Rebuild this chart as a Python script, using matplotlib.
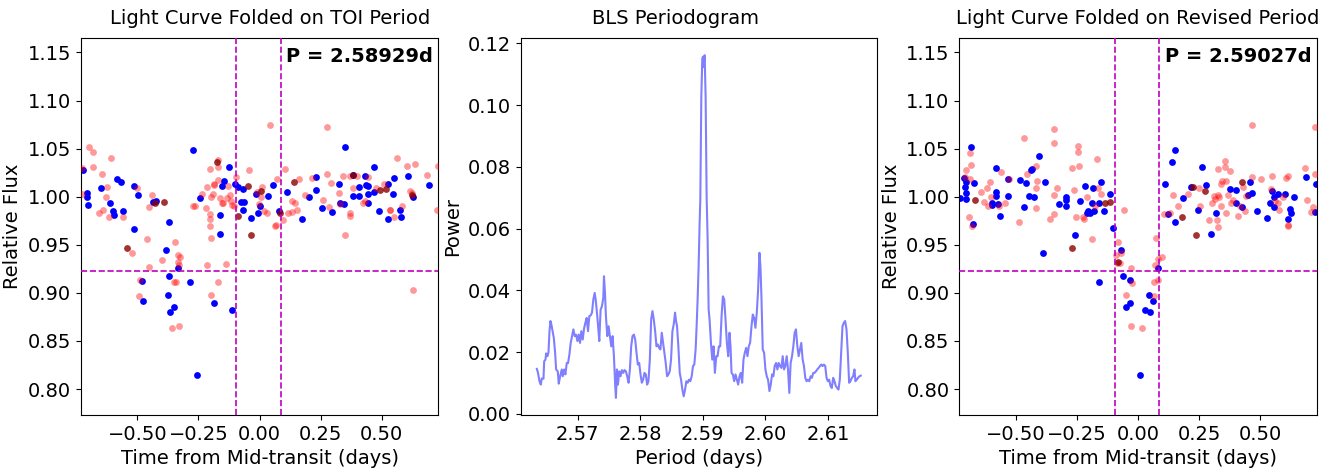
import matplotlib
matplotlib.use("Agg")
import matplotlib.pyplot as plt
import numpy as np

# ---------------- Data ----------------
toi_period_label = "P = 2.58929d"
rev_period_label = "P = 2.59027d"
transit_start = -0.096
transit_end = 0.0865
depth_level = 0.9229

# Panel 1: folded on TOI period
toi_blue_phase = [-0.274, -0.721, -0.704, -0.704, -0.703, -0.647, -0.584, -0.566, -0.610, -0.601,
                  -0.594, -0.557, -0.515, -0.499, -0.435, -0.422, -0.369, -0.512, -0.244, -0.124,
                  -0.144, -0.155, -0.163, -0.102, -0.090, -0.067, -0.076, -0.064, -0.067, -0.033,
                  -0.014, -0.005, 0.001, 0.033, 0.057, 0.078, 0.114, 0.173, 0.203, 0.230,
                  0.232, 0.255, 0.298, 0.324, 0.331, 0.347, 0.350, 0.384, 0.382, 0.405,
                  0.406, 0.433, 0.437, 0.445, 0.445, 0.445, 0.469, 0.470, 0.489, 0.525,
                  0.526, 0.548, 0.547, 0.575, 0.577, 0.608, 0.628, 0.693,
                  -0.383, -0.481, -0.478, -0.371, -0.335, -0.375, -0.349, -0.365, -0.286, -0.256,
                  -0.187, -0.113, -0.161]
toi_blue_flux = [1.049, 1.028, 1.004, 1.000, 0.991, 1.009, 1.018, 1.015, 0.994, 0.985,
                 0.981, 0.985, 1.011, 1.002, 0.995, 0.996, 0.974, 0.966, 0.999, 1.031,
                 1.016, 1.011, 0.981, 1.013, 1.010, 1.008, 0.995, 0.995, 0.986, 0.978,
                 1.003, 0.983, 0.990, 1.001, 1.012, 0.985, 1.005, 0.977, 1.000, 1.021,
                 1.007, 0.988, 0.984, 1.013, 0.994, 0.992, 1.052, 1.023, 1.001, 1.001,
                 1.010, 1.022, 1.012, 1.011, 1.003, 0.994, 1.031, 1.005, 0.985, 1.013,
                 0.977, 1.019, 1.003, 0.986, 0.979, 1.022, 1.000, 1.012,
                 0.945, 0.912, 0.892, 0.918, 0.926, 0.898, 0.885, 0.880, 0.911, 0.815,
                 0.890, 0.882, 0.961]
toi_red_phase = [-0.725, -0.725, -0.698, -0.683, -0.683, -0.643, -0.606, -0.655, -0.642, -0.628,
                 -0.625, -0.617, -0.560, -0.501, -0.452, -0.441, -0.272, -0.264, -0.234, -0.219,
                 -0.203, -0.202, -0.215, -0.202, -0.187, -0.191, -0.186, -0.169, -0.169, -0.169,
                 -0.198, -0.163, -0.155, -0.148, -0.134, -0.127, -0.121, -0.117, -0.112, -0.105,
                 -0.098, -0.042, -0.012, -0.001, 0.008, 0.011, 0.019, 0.029, 0.042, 0.065,
                 0.072, 0.094, 0.105, 0.117, 0.132, 0.132, 0.146, 0.155, 0.162, 0.187,
                 0.215, 0.260, 0.275, 0.275, 0.283, 0.293, 0.324, 0.330, 0.340, 0.370,
                 0.372, 0.371, 0.397, 0.383, 0.424, 0.432, 0.444, 0.477, 0.511, 0.532,
                 0.535, 0.552, 0.561, 0.581, 0.604, 0.616, 0.623, 0.637, 0.685, 0.725, 0.729,
                 -0.459, -0.345, -0.398, -0.452, -0.523, -0.489, -0.493, -0.334, -0.326, -0.333,
                 -0.331, -0.350, -0.343, -0.357, -0.328, -0.199, -0.202, -0.214, -0.198, -0.168,
                 -0.138, 0.069, 0.351, 0.628]
toi_red_flux = [1.030, 1.003, 1.052, 1.047, 1.031, 1.024, 1.040, 0.983, 0.986, 1.000,
                1.010, 0.979, 0.979, 1.009, 0.989, 1.002, 0.990, 0.990, 1.003, 0.988,
                0.982, 0.977, 1.010, 1.029, 1.013, 1.003, 1.012, 1.031, 1.017, 1.038,
                1.000, 0.999, 0.994, 0.993, 0.999, 1.011, 1.002, 0.996, 0.991, 0.990,
                1.020, 1.028, 1.005, 0.992, 1.000, 1.010, 0.985, 0.983, 1.075, 0.970,
                1.018, 0.976, 1.029, 0.983, 0.984, 0.996, 0.994, 0.986, 1.018, 1.002,
                1.019, 0.997, 1.072, 1.024, 0.989, 1.014, 1.004, 0.992, 1.022, 1.022,
                0.983, 0.980, 1.022, 1.009, 0.994, 0.996, 1.020, 1.009, 1.013, 0.986,
                0.986, 0.979, 1.040, 0.990, 1.032, 1.006, 1.004, 1.034, 1.023, 0.986, 1.032,
                0.956, 0.953, 0.934, 0.927, 0.942, 0.913, 0.897, 0.939, 0.937, 0.932,
                0.929, 0.911, 0.911, 0.864, 0.866, 0.957, 0.970, 0.929, 0.898, 0.911,
                0.930, 0.971, 0.960, 0.903]
toi_dark_phase = [-0.172, -0.426, -0.392, -0.048, 0.007, 0.082, 0.142, 0.384, 0.493, 0.519,
                  0.624, -0.090, -0.542, -0.034]
toi_dark_flux = [1.036, 0.993, 0.995, 1.011, 1.006, 0.983, 1.015, 1.023, 1.007, 1.008,
                 1.002, 0.980, 0.947, 0.960]

# Panel 3: folded on revised period
rev_blue_phase = [-0.728, -0.710, -0.704, -0.706, -0.704, -0.704, -0.684, -0.670, -0.676, -0.582,
                  -0.582, -0.598, -0.595, -0.572, -0.580, -0.563, -0.533, -0.533, -0.484, -0.458,
                  -0.467, -0.446, -0.425, -0.436, -0.432, -0.405, -0.379, -0.323, -0.296, -0.296,
                  -0.293, -0.238, -0.218, -0.183, -0.187, -0.203, -0.207, -0.198, -0.181, -0.158,
                  -0.151, -0.139, -0.114, -0.104, 0.110, 0.123, 0.150, 0.149, 0.140, 0.184,
                  0.217, 0.247, 0.263, 0.277, 0.320, 0.377, 0.402, 0.400, 0.426, 0.459,
                  0.464, 0.450, 0.486, 0.528, 0.541, 0.546, 0.556, 0.557, 0.572, 0.601,
                  0.621, 0.624, 0.614, 0.638, 0.688, 0.725, 0.729,
                  -0.390, -0.259, -0.159, -0.068, -0.061, -0.034, -0.048, -0.034, 0.046, 0.063,
                  0.030, 0.050, 0.008, 0.082, 0.298]
rev_blue_flux = [0.999, 1.019, 1.015, 1.010, 1.004, 0.998, 1.052, 1.014, 0.972, 1.005,
                 1.001, 0.994, 0.991, 0.992, 1.030, 0.980, 1.001, 1.018, 1.017, 1.014,
                 0.989, 1.001, 1.000, 1.028, 1.029, 1.042, 1.015, 0.992, 1.000, 0.990,
                 0.997, 0.996, 1.011, 1.009, 0.994, 0.985, 0.983, 0.983, 0.985, 0.994,
                 1.015, 0.985, 1.003, 0.967, 1.013, 0.982, 0.974, 1.049, 1.036, 0.999,
                 1.010, 0.986, 1.031, 1.012, 0.983, 1.008, 1.007, 0.994, 0.989, 1.015,
                 1.004, 1.002, 0.985, 0.978, 0.994, 1.006, 1.000, 0.989, 1.003, 1.003,
                 0.987, 0.983, 0.977, 1.000, 1.021, 0.984, 1.013,
                 0.941, 0.960, 0.911, 0.945, 0.918, 0.913, 0.885, 0.890, 0.898, 0.892,
                 0.882, 0.880, 0.815, 0.926, 0.961]
rev_red_phase = [-0.702, -0.688, -0.686, -0.684, -0.707, -0.691, -0.679, -0.643, -0.629, -0.618,
                 -0.606, -0.612, -0.602, -0.568, -0.561, -0.543, -0.526, -0.485, -0.467, -0.455,
                 -0.417, -0.413, -0.416, -0.416, -0.360, -0.343, -0.343, -0.343, -0.345, -0.330,
                 -0.270, -0.262, -0.253, -0.244, -0.244, -0.242, -0.226, -0.219, -0.210, -0.168,
                 -0.165, -0.150, -0.174, -0.056, 0.108, 0.132, 0.142, 0.163, 0.206, 0.249,
                 0.255, 0.289, 0.310, 0.301, 0.314, 0.327, 0.324, 0.327, 0.328, 0.338,
                 0.344, 0.341, 0.356, 0.357, 0.358, 0.358, 0.366, 0.375, 0.380, 0.390,
                 0.410, 0.415, 0.429, 0.437, 0.443, 0.464, 0.467, 0.501, 0.542, 0.549,
                 0.560, 0.572, 0.576, 0.593, 0.605, 0.613, 0.613, 0.681, 0.692, 0.706,
                 0.713, 0.721, 0.722, 0.330,
                 -0.187, -0.082, -0.089, -0.068, -0.084, -0.073, -0.027, -0.025, -0.048, -0.029,
                 0.015, 0.065, 0.083, 0.067, 0.075, 0.082, 0.070, 0.099, 0.614]
rev_red_flux = [1.028, 1.018, 1.045, 1.033, 1.021, 0.979, 0.970, 1.005, 0.995, 1.009,
                1.015, 0.990, 1.000, 0.990, 1.026, 0.994, 1.018, 0.974, 1.061, 1.024,
                1.032, 1.016, 1.009, 0.988, 0.977, 0.982, 1.056, 1.070, 1.002, 1.009,
                1.030, 1.007, 0.979, 1.053, 1.046, 1.032, 0.979, 0.977, 1.000, 1.039,
                1.009, 1.003, 0.990, 0.986, 0.982, 0.983, 1.002, 0.990, 1.003, 1.009,
                0.990, 0.976, 1.001, 0.993, 0.998, 1.002, 0.976, 0.969, 1.029, 1.013,
                1.016, 0.990, 1.037, 1.031, 1.016, 0.983, 1.002, 1.027, 0.994, 0.997,
                0.980, 0.990, 1.010, 0.985, 1.001, 1.020, 1.075, 1.018, 1.008, 1.022,
                0.996, 0.993, 0.986, 1.000, 1.019, 1.022, 0.970, 1.030, 0.997, 0.984,
                0.989, 1.024, 1.072, 1.000,
                0.956, 0.953, 0.939, 0.942, 0.931, 0.931, 0.926, 0.910, 0.898, 0.866,
                0.864, 0.911, 0.913, 0.897, 0.957, 0.935, 0.929, 0.937, 0.971]
rev_dark_phase = [-0.666, -0.135, -0.114, 0.180, 0.225, 0.274, 0.425, -0.270, 0.238, -0.081]
rev_dark_flux = [0.997, 0.993, 0.995, 0.979, 1.010, 1.006, 1.015, 0.947, 0.960, 0.932]

# Panel 2: BLS periodogram
bls_period = [2.56347, 2.56363, 2.56389, 2.56410, 2.56426, 2.56453, 2.56464, 2.56485, 2.56495, 2.56517,
              2.56533, 2.56549, 2.56564, 2.56580, 2.56596, 2.56618, 2.56639, 2.56655, 2.56681, 2.56697,
              2.56719, 2.56745, 2.56761, 2.56782, 2.56803, 2.56825, 2.56846, 2.56867, 2.56888, 2.56910,
              2.56931, 2.56952, 2.56973, 2.56995, 2.57016, 2.57037, 2.57058, 2.57080, 2.57101, 2.57122,
              2.57143, 2.57165, 2.57186, 2.57207, 2.57228, 2.57250, 2.57271, 2.57287, 2.57303, 2.57324,
              2.57345, 2.57366, 2.57388, 2.57409, 2.57420, 2.57436, 2.57451, 2.57473, 2.57494, 2.57515,
              2.57536, 2.57558, 2.57579, 2.57600, 2.57611, 2.57627, 2.57643, 2.57664, 2.57685, 2.57706,
              2.57728, 2.57749, 2.57770, 2.57791, 2.57813, 2.57834, 2.57855, 2.57876, 2.57898, 2.57919,
              2.57940, 2.57961, 2.57983, 2.58004, 2.58025, 2.58046, 2.58068, 2.58089, 2.58110, 2.58131,
              2.58153, 2.58174, 2.58195, 2.58216, 2.58238, 2.58259, 2.58280, 2.58301, 2.58322, 2.58344,
              2.58365, 2.58386, 2.58407, 2.58429, 2.58450, 2.58471, 2.58492, 2.58514, 2.58535, 2.58556,
              2.58572, 2.58588, 2.58609, 2.58631, 2.58652, 2.58673, 2.58694, 2.58716, 2.58737, 2.58758,
              2.58779, 2.58800, 2.58822, 2.58843, 2.58864, 2.58885, 2.58901, 2.58917, 2.58933, 2.58949,
              2.58960, 2.58976, 2.58992, 2.59002, 2.59013, 2.59029, 2.59045, 2.59061, 2.59077, 2.59093,
              2.59108, 2.59130, 2.59151, 2.59172, 2.59193, 2.59215, 2.59236, 2.59257, 2.59278, 2.59300,
              2.59321, 2.59342, 2.59363, 2.59385, 2.59406, 2.59427, 2.59443, 2.59459, 2.59480, 2.59502,
              2.59523, 2.59544, 2.59565, 2.59587, 2.59608, 2.59629, 2.59650, 2.59671, 2.59693, 2.59714,
              2.59735, 2.59756, 2.59778, 2.59799, 2.59820, 2.59841, 2.59863, 2.59884, 2.59905, 2.59921,
              2.59937, 2.59958, 2.59980, 2.60001, 2.60022, 2.60043, 2.60065, 2.60086, 2.60107, 2.60128,
              2.60149, 2.60171, 2.60192, 2.60213, 2.60234, 2.60256, 2.60277, 2.60298, 2.60319, 2.60341,
              2.60362, 2.60383, 2.60404, 2.60426, 2.60447, 2.60468, 2.60489, 2.60511, 2.60532, 2.60553,
              2.60574, 2.60596, 2.60617, 2.60638, 2.60659, 2.60681, 2.60702, 2.60723, 2.60744, 2.60766,
              2.60787, 2.60808, 2.60829, 2.60851, 2.60872, 2.60893, 2.60914, 2.60935, 2.60957, 2.60978,
              2.60999, 2.61020, 2.61042, 2.61063, 2.61084, 2.61105, 2.61127, 2.61148, 2.61169, 2.61190,
              2.61212, 2.61233, 2.61254, 2.61275, 2.61297, 2.61318, 2.61339, 2.61360, 2.61382, 2.61403,
              2.61424, 2.61440, 2.61461, 2.61482, 2.61504, 2.61525]
bls_power = [0.0146, 0.0135, 0.0106, 0.0095, 0.0115, 0.0114, 0.0171, 0.0176, 0.0196, 0.0187,
             0.0200, 0.0268, 0.0301, 0.0289, 0.0271, 0.0246, 0.0198, 0.0144, 0.0138, 0.0098,
             0.0122, 0.0144, 0.0122, 0.0144, 0.0128, 0.0165, 0.0165, 0.0192, 0.0230, 0.0252,
             0.0274, 0.0252, 0.0257, 0.0236, 0.0257, 0.0230, 0.0268, 0.0241, 0.0276, 0.0295,
             0.0311, 0.0268, 0.0317, 0.0319, 0.0328, 0.0371, 0.0392, 0.0371, 0.0338, 0.0290,
             0.0236, 0.0338, 0.0349, 0.0376, 0.0446, 0.0392, 0.0317, 0.0252, 0.0284, 0.0252,
             0.0219, 0.0252, 0.0187, 0.0090, 0.0052, 0.0144, 0.0095, 0.0138, 0.0122, 0.0142,
             0.0133, 0.0142, 0.0138, 0.0122, 0.0101, 0.0144, 0.0219, 0.0252, 0.0257, 0.0241,
             0.0198, 0.0160, 0.0165, 0.0128, 0.0101, 0.0111, 0.0133, 0.0128, 0.0095, 0.0106,
             0.0176, 0.0306, 0.0333, 0.0306, 0.0268, 0.0219, 0.0225, 0.0214, 0.0209, 0.0263,
             0.0230, 0.0198, 0.0165, 0.0122, 0.0128, 0.0138, 0.0176, 0.0268, 0.0290, 0.0328,
             0.0301, 0.0284, 0.0219, 0.0133, 0.0111, 0.0079, 0.0057, 0.0079, 0.0106, 0.0101,
             0.0111, 0.0106, 0.0122, 0.0155, 0.0160, 0.0209, 0.0284, 0.0371, 0.0479, 0.0619,
             0.0695, 0.1027, 0.1151, 0.1157, 0.1124, 0.1162, 0.1027, 0.0703, 0.0565, 0.0338,
             0.0306, 0.0230, 0.0176, 0.0219, 0.0133, 0.0187, 0.0187, 0.0219, 0.0219, 0.0317,
             0.0381, 0.0371, 0.0306, 0.0230, 0.0187, 0.0263, 0.0219, 0.0133, 0.0128, 0.0106,
             0.0128, 0.0111, 0.0095, 0.0122, 0.0133, 0.0101, 0.0176, 0.0198, 0.0214, 0.0187,
             0.0219, 0.0230, 0.0284, 0.0322, 0.0311, 0.0279, 0.0328, 0.0403, 0.0522, 0.0479,
             0.0381, 0.0209, 0.0198, 0.0144, 0.0122, 0.0111, 0.0074, 0.0095, 0.0128, 0.0122,
             0.0155, 0.0165, 0.0144, 0.0165, 0.0155, 0.0149, 0.0187, 0.0144, 0.0155, 0.0187,
             0.0144, 0.0068, 0.0165, 0.0187, 0.0219, 0.0263, 0.0274, 0.0219, 0.0187, 0.0209,
             0.0230, 0.0176, 0.0155, 0.0117, 0.0106, 0.0111, 0.0106, 0.0122, 0.0117, 0.0133,
             0.0133, 0.0138, 0.0144, 0.0149, 0.0155, 0.0160, 0.0155, 0.0160, 0.0155, 0.0117,
             0.0106, 0.0111, 0.0090, 0.0084, 0.0117, 0.0106, 0.0090, 0.0084, 0.0079, 0.0111,
             0.0198, 0.0284, 0.0295, 0.0301, 0.0274, 0.0198, 0.0101, 0.0106, 0.0117, 0.0122,
             0.0144, 0.0106, 0.0111, 0.0117, 0.0122, 0.0124]

# ---------------- Plot ----------------
plt.rcParams['font.family'] = ['DejaVu Sans']
plt.rcParams['font.size'] = 14

fig = plt.figure(figsize=(13.44, 4.70), dpi=100)
ax1 = fig.add_axes([0.0603, 0.117, 0.2656, 0.802])
ax2 = fig.add_axes([0.3874, 0.117, 0.2651, 0.802])
ax3 = fig.add_axes([0.7138, 0.117, 0.2659, 0.802])


def folded(ax, bp, bf, rp, rf, dp, df, label, title, title_x):
    ax.scatter(bp, bf, s=24, color='blue', linewidths=0, zorder=2)
    ax.scatter(rp, rf, s=24, color='red', alpha=0.4, linewidths=0, zorder=3)
    ax.scatter(dp, df, s=24, color='darkred', alpha=0.8, linewidths=0, zorder=3)
    ax.axvline(transit_start, color='m', linestyle='--', linewidth=1.2, zorder=4)
    ax.axvline(transit_end, color='m', linestyle='--', linewidth=1.2, zorder=4)
    ax.axhline(depth_level, color='m', linestyle='--', linewidth=1.2, zorder=4)
    ax.set_xlim(-0.73, 0.73)
    ax.set_ylim(0.773, 1.165)
    ax.set_xticks([-0.5, -0.25, 0.0, 0.25, 0.5])
    ax.set_yticks([0.80, 0.85, 0.90, 0.95, 1.00, 1.05, 1.10, 1.15])
    ax.set_xlabel("Time from Mid-transit (days)")
    ax.set_ylabel("Relative Flux")
    ax.set_title(title, fontsize=14, x=title_x, pad=10)
    ax.text(0.985, 0.975, label, transform=ax.transAxes, ha='right', va='top',
            fontsize=14, fontweight='bold', zorder=5,
            bbox=dict(facecolor='white', edgecolor='none', pad=1.0))


folded(ax1, toi_blue_phase, toi_blue_flux, toi_red_phase, toi_red_flux,
       toi_dark_phase, toi_dark_flux, toi_period_label, "Light Curve Folded on TOI Period", 0.53)
folded(ax3, rev_blue_phase, rev_blue_flux, rev_red_phase, rev_red_flux,
       rev_dark_phase, rev_dark_flux, rev_period_label, "Light Curve Folded on Revised Period", 0.5)

ax2.plot(bls_period, bls_power, color='blue', alpha=0.5, linewidth=1.5)
ax2.set_xticks([2.57, 2.58, 2.59, 2.60, 2.61])
ax2.set_yticks([0.0, 0.02, 0.04, 0.06, 0.08, 0.10, 0.12])
ax2.set_xlabel("Period (days)")
ax2.set_ylabel("Power")
ax2.set_title("BLS Periodogram", fontsize=14, x=0.435, pad=10)

fig.savefig("out.png", dpi=100)
